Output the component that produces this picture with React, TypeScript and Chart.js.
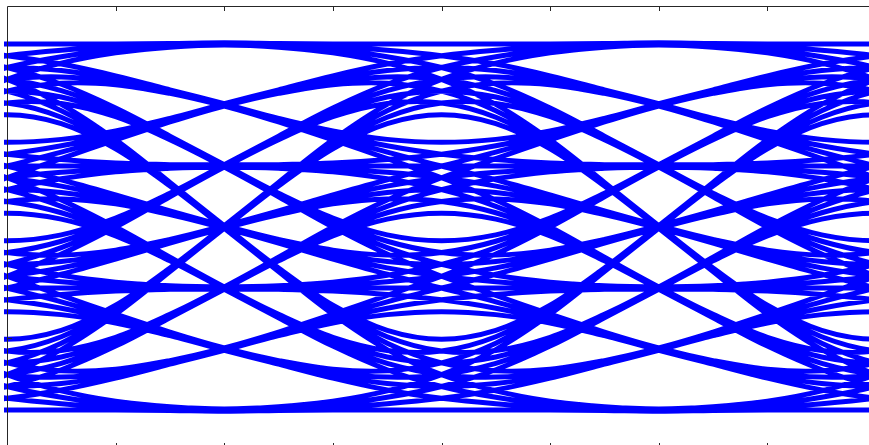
import React, { useEffect, useRef } from 'react';
import { Chart, registerables } from 'chart.js';

Chart.register(...registerables);

// PAM-4 symbol levels (signal units)
const LEVELS = [-3, -1, 1, 3];
// Symmetric pulse response, one value every 1/8 UI, from 0 to 1.5 UI
const PULSE_TAPS = [1.0, 0.97, 0.885, 0.76, 0.62, 0.47, 0.325, 0.205, 0.12, 0.065, 0.03, 0.012, 0.004];
const SAMPLES_PER_UI = 8;
// The eye window shows two unit intervals (symbols at -1..3 UI shape it)
const SYMBOL_SLOTS = [-1, 0, 1, 2, 3];
const X_RANGE = [0, 2];
const Y_RANGE = [-4.49, 4.49];
const X_TICKS = [0.25, 0.5, 0.75, 1, 1.25, 1.5, 1.75];
const Y_TICKS = [-2.26];

const TRACE_COLOR = '#0000ff';
const FRAME_COLOR = '#262626';

function tap(k: number): number {
  const i = Math.abs(k);
  return i < PULSE_TAPS.length ? PULSE_TAPS[i] : 0;
}

function buildPoints() {
  const pts: { x: number; y: number | null }[] = [];
  const n = SYMBOL_SLOTS.length;
  const combos: number[][] = [[]];
  for (let i = 0; i < n; i++) {
    const next: number[][] = [];
    for (const c of combos) for (const a of LEVELS) next.push([...c, a]);
    combos.splice(0, combos.length, ...next);
  }
  const first = X_RANGE[0] * SAMPLES_PER_UI - 1;
  const last = X_RANGE[1] * SAMPLES_PER_UI + 1;
  for (const syms of combos) {
    for (let m = first; m <= last; m++) {
      let s = 0;
      for (let i = 0; i < n; i++) {
        s += syms[i] * tap(m - SAMPLES_PER_UI * SYMBOL_SLOTS[i]);
      }
      pts.push({ x: m / SAMPLES_PER_UI, y: s });
    }
    pts.push({ x: last / SAMPLES_PER_UI, y: null });
  }
  return pts;
}

const framePlugin = {
  id: 'eyeFrame',
  afterDatasetsDraw(chart: any) {
    const { ctx, chartArea, scales } = chart;
    const { left, top, right, bottom } = chartArea;
    const x = scales.x;
    const y = scales.y;
    ctx.save();
    ctx.strokeStyle = FRAME_COLOR;
    ctx.lineWidth = 1;
    ctx.beginPath();
    ctx.rect(left + 0.5, top + 0.5, right - left, bottom - top);
    X_TICKS.forEach((v) => {
      const px = Math.round(x.getPixelForValue(v)) + 0.5;
      ctx.moveTo(px, top);
      ctx.lineTo(px, top + 5);
      ctx.moveTo(px, bottom);
      ctx.lineTo(px, bottom - 5);
    });
    Y_TICKS.forEach((v) => {
      const py = Math.round(y.getPixelForValue(v)) + 0.5;
      ctx.moveTo(left, py);
      ctx.lineTo(left + 5, py);
    });
    ctx.stroke();
    ctx.restore();
  },
};

export default function App() {
  const ref = useRef<HTMLCanvasElement | null>(null);
  useEffect(() => {
    if (!ref.current) return;
    const chart = new Chart(ref.current, {
      type: 'line',
      data: {
        datasets: [
          {
            data: buildPoints() as any,
            borderColor: TRACE_COLOR,
            borderWidth: 5,
            pointRadius: 0,
            tension: 0.35,
            spanGaps: false,
            clip: { left: 3, top: 0, right: 0, bottom: 0 } as any,
          },
        ],
      },
      options: {
        animation: false,
        responsive: false,
        events: [],
        layout: { padding: { left: 7, top: 6, right: 14, bottom: 12 } },
        plugins: { legend: { display: false }, tooltip: { enabled: false } },
        scales: {
          x: { type: 'linear', min: X_RANGE[0], max: X_RANGE[1], display: false },
          y: { type: 'linear', min: Y_RANGE[0], max: Y_RANGE[1], display: false },
        },
      },
      plugins: [framePlugin],
    });
    return () => chart.destroy();
  }, []);
  return (
    <div style={{ position: 'fixed', left: 0, top: 0, width: 890, height: 460, background: '#fff' }}>
      <canvas ref={ref} width={890} height={460} />
    </div>
  );
}
